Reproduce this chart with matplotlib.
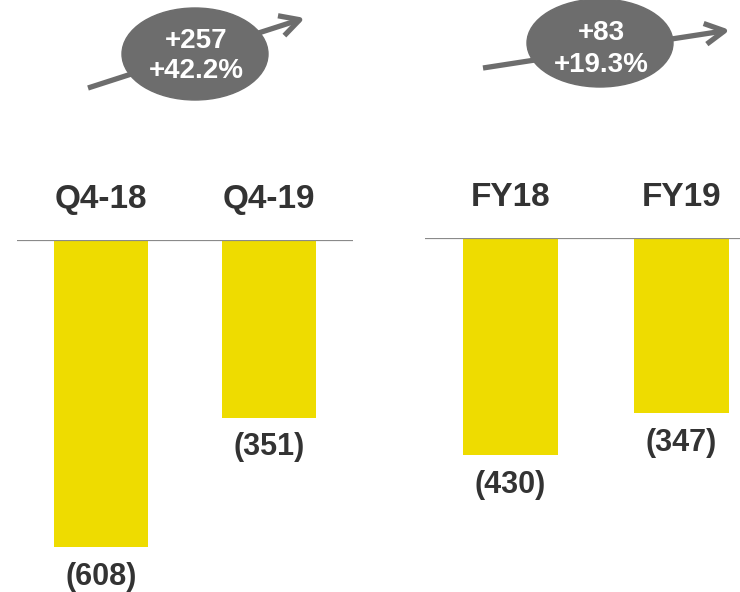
import matplotlib.pyplot as plt
from matplotlib.patches import Ellipse

plt.rcParams['font.family'] = ['Liberation Sans', 'DejaVu Sans']

quarter_labels = ["Q4-18", "Q4-19"]
quarter_values = [-608, -351]
year_labels = ["FY18", "FY19"]
year_values = [-430, -347]
change_texts = ["+257\n+42.2%", "+83\n+19.3%"]

BAR = "#EEDC00"
TEXT = "#333333"
GREY = "#6D6D6D"
W, H = 740, 592

fig = plt.figure(figsize=(W / 100, H / 100), dpi=100)


def px_axes(left, top, width, height):
    return fig.add_axes([left / W, 1 - (top + height) / H, width / W, height / H])


def draw_panel(ax, labels, values):
    ax.bar(range(len(values)), values, width=0.554, color=BAR)
    ax.axhline(0, color="#8A8A8A", lw=1.6)
    ax.set_xlim(-0.5, 1.5)
    ax.set_ylim(-700, 0)
    ax.axis("off")
    for i, (lab, v) in enumerate(zip(labels, values)):
        ax.annotate(lab, (i, 0), xytext=(0, 29), textcoords="offset points",
                    ha="center", va="center", fontsize=24, fontweight="bold",
                    color=TEXT, annotation_clip=False)
        ax.annotate("(%d)" % abs(v), (i, v), xytext=(0, -21.5), textcoords="offset points",
                    ha="center", va="center", fontsize=22, fontweight="bold",
                    color=TEXT, annotation_clip=False)


ax1 = px_axes(17, 240, 336, 354)
draw_panel(ax1, quarter_labels, quarter_values)
ax2 = px_axes(425, 238, 342, 354)
draw_panel(ax2, year_labels, year_values)

# overlay for the change bubbles
ov = fig.add_axes([0, 0, 1, 1])
ov.set_xlim(0, W)
ov.set_ylim(H, 0)
ov.axis("off")

arrows = [((88, 88), (305, 18)), ((483, 68), (730, 30))]
bubbles = [(195, 54, 146, 92), (600, 43, 146, 88)]
text_pos = [(196, 56), (601, 49)]
for (start, end), (cx, cy, bw, bh), (tx, ty), txt in zip(arrows, bubbles, text_pos, change_texts):
    ov.annotate("", xy=end, xytext=start,
                arrowprops=dict(arrowstyle="->,head_length=1.4,head_width=0.75",
                                lw=3.8, color=GREY, capstyle="butt",
                                shrinkA=0, shrinkB=0))
    ov.add_patch(Ellipse((cx, cy), bw, bh, color=GREY, zorder=3))
    ov.text(tx, ty, txt, ha="center", va="center", fontsize=20, fontweight="bold",
            color="white", linespacing=1.25, zorder=4)

fig.savefig("out.png", dpi=100)
